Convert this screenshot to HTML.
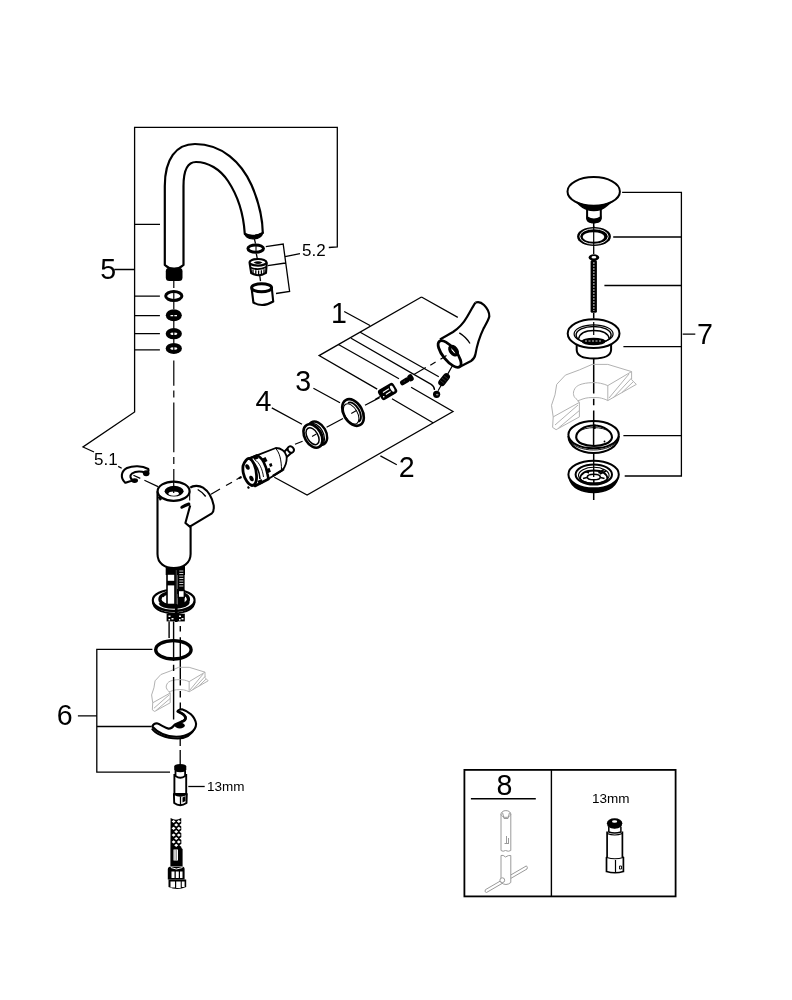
<!DOCTYPE html>
<html><head><meta charset="utf-8">
<style>
html,body{margin:0;padding:0;background:#fff;}
svg{display:block;will-change:transform;}
text{font-family:"Liberation Sans",sans-serif;fill:#000;}
</style></head><body>
<svg width="792" height="1000" viewBox="0 0 792 1000">
<rect width="792" height="1000" fill="#fff"/>
<!-- ===== leader / bracket lines ===== -->
<g fill="none" stroke="#000" stroke-width="1.3">
<polyline points="328.8,247.5 337.3,247 337.3,127.3 134.6,127.3 134.6,412 83,447 94,452"/>
<path d="M134.6,224.3H160M114.3,269.5H134.6M134.6,296.2H159.9M134.6,315.6H159.9M134.6,333.6H159.9M134.6,349.8H159.9"/>
<!-- 5.2 bracket -->
<path d="M265.8,246.7L283.2,244.1L289.6,291.4L276,293.5M267.7,265.7L285.5,263M285.1,256.6L300,253.6"/>
<!-- bracket 1 -->
<path d="M421.5,297L457.8,317.4M421.5,297L319.1,355.6L377.2,389.1M360.2,332.3L438.8,376.8M351.1,338.3L431.2,384.4Q434.5,386.5 434.5,390M338.9,344.8L399,378.7M344.2,311.5L370,325.5"/>
<!-- bracket 2 -->
<path d="M411.1,387.3L453,411.5L307.1,495L274.3,477.3M392,398.7L433,422.8M380.4,455.9L396.8,464.7"/>
<!-- labels 3,4 leaders -->
<path d="M313.4,388.2L340,402.8M271.8,407.9L302,424.3"/>
<!-- bracket 6 -->
<path d="M152.4,649.4H96.8V772.2H170M96.8,726.5H151.1M77.9,715.9H96.8"/>
<!-- 13mm leader -->
<path d="M188.3,786.5H204.7"/>
<!-- bracket 7 -->
<path d="M622.1,192.3H681.4V476H624.7M613.2,237H681.4M604.4,285.5H681.4M623.4,346.7H681.4M623.4,435.6H681.4M682.7,334.2H695.3"/>
</g>
<!-- labels -->
<text x="100.3" y="279" font-size="28.6">5</text>
<text x="331" y="323" font-size="28.6">1</text>
<text x="295.2" y="391.3" font-size="28.6">3</text>
<text x="255.5" y="411" font-size="28.6">4</text>
<text x="398.8" y="476.7" font-size="28.6">2</text>
<text x="56.7" y="724.7" font-size="28.6">6</text>
<text x="697" y="344.3" font-size="28.6">7</text>
<text x="496.5" y="795.3" font-size="28.6">8</text>
<text x="302" y="256" font-size="17">5.2</text>
<text x="94" y="465" font-size="17">5.1</text>
<text x="207" y="790.6" font-size="13.5">13mm</text>
<text x="592" y="802.7" font-size="13.5">13mm</text>

<!-- ===== spout ===== -->
<g fill="none" stroke="#000" stroke-width="2.2" stroke-linejoin="round">
<path d="M164.8,265 L164.8,186 C164.8,159 176,144 195,144 C222,144 241.5,162.5 251.5,185 C258.5,201 262.5,218 262.8,233 Q253,239 244.8,234 C243.5,213 238,196 228,181 C220,169 208,162 196,162 C188,162 183.5,169 183.5,186 L183.5,265 Q174,273 164.8,265 Z" fill="#fff"/>
</g>
<path d="M244.8,233.5 Q253,237.5 262.8,232.8 Q261.5,238.5 253,239 Q245.5,238.5 244.8,233.5Z" fill="#000" stroke="#000" stroke-width="1.2"/>
<rect x="165.8" y="267.8" width="16.7" height="13.2" rx="3.5" fill="#000"/>

<!-- centerline left column -->
<g stroke="#000" stroke-width="1.2" fill="none">
<path d="M173.8,281V288M173.8,302V309M173.8,321V328M173.8,339V343M173.8,360.5V385.7M173.8,390.6V397.6M173.8,402.5V452.2M173.8,457.1V464.1M173.8,469V482"/>
</g>
<!-- o-rings 5 -->
<ellipse cx="173.8" cy="296" rx="8.1" ry="4.5" fill="none" stroke="#000" stroke-width="3"/>
<ellipse cx="173.8" cy="315.3" rx="8" ry="6" fill="#000"/>
<ellipse cx="173.8" cy="333.7" rx="8.1" ry="5.6" fill="#000"/>
<ellipse cx="173.8" cy="348.4" rx="8.1" ry="5.5" fill="#000"/>
<ellipse cx="173.8" cy="333.8" rx="3.5" ry="1.3" fill="#fff"/>
<ellipse cx="173.8" cy="348.5" rx="3.5" ry="1.3" fill="#fff"/>
<rect x="170.5" y="315" width="6.5" height="1.3" fill="#fff"/>
<path d="M173.8,291V301M173.8,312V319M173.8,331V336.5M173.8,345.5V351" stroke="#000" stroke-width="1.2"/>

<!-- ===== aerator 5.2 ===== -->
<g stroke="#000" stroke-width="1.3" fill="none">
<path d="M254.4,238.8L255.5,243.7M256.3,253.6L257.4,259.2M259.7,275.2L260.5,281.2"/>
</g>
<ellipse cx="255.7" cy="248.6" rx="7.8" ry="3.7" fill="none" stroke="#000" stroke-width="3"/>
<path d="M256,245.5V252" stroke="#000" stroke-width="1.1"/>
<path d="M249.6,263 L251.2,273 Q258.5,277.5 266,272.8 L266.8,262.5" fill="#fff" stroke="#000" stroke-width="2.1"/>
<ellipse cx="258" cy="262.3" rx="8.5" ry="3.3" fill="#fff" stroke="#000" stroke-width="2.2"/>
<path d="M253.5,262.5 Q258,260 262.5,262.5 Q258,265.5 253.5,262.5Z" fill="#000"/>
<path d="M250.3,267.5 Q258,271 266.3,267" fill="none" stroke="#000" stroke-width="1.8"/>
<path d="M253,269.5V274M255.8,270.3V275M258.6,270.5V275.3M261.4,270.2V275M264,269.3V274" stroke="#000" stroke-width="1.3"/>
<path d="M251.7,289 L253.4,302.5 Q262.5,308 273.2,301.5 L271.8,288" fill="#fff" stroke="#000" stroke-width="2.1"/>
<ellipse cx="261.6" cy="287.8" rx="10" ry="4" fill="#fff" stroke="#000" stroke-width="3"/>
<path d="M254,290.5 Q262,293.8 270,290.2" fill="none" stroke="#000" stroke-width="1.2"/>
<path d="M258.5,292 Q262,290.6 265.5,292" fill="none" stroke="#000" stroke-width="1"/>
<!-- ===== handle 1 ===== -->
<g stroke="#000" fill="none" stroke-linejoin="round">
<path d="M475.5,302.6 C478,301.5 481,302 484,305 C487,308 489.5,312 489.3,316.5 C488.5,320 486,324 483.6,328.4 C480,336 477,345 475.5,354 C475,357 474,359 471,361 L460.4,366.5" stroke-width="2.2" fill="#fff"/>
<path d="M475.5,302.6 C473,306 470,312 467,317 C463,324 459,328 453,332 C449,334.5 444,337 440,339.5" stroke-width="2.2"/>
<ellipse cx="449.6" cy="354" rx="16.3" ry="6.6" transform="rotate(51 449.6 354)" stroke-width="2.8" fill="#fff"/>
<ellipse cx="453.6" cy="350.6" rx="5" ry="2.9" transform="rotate(51 453.6 350.6)" stroke-width="3.2"/>
<path d="M459.3,332.9 Q466,337 470,343.5" stroke-width="1.3"/>
<path d="M441,341.5 Q443,340 445,341.5" stroke-width="1"/>
</g>
<!-- axis dashed from handle -->
<g stroke="#000" stroke-width="1.2" fill="none">
<path d="M413.9,374.4L425.8,367.4M430.3,365.3L435.6,362.1M440.5,359.2L446.5,355.6M450.5,353.2L453,351.8"/>
<path d="M452.8,365L447.7,374.1M441.2,385.3L438.1,390.8"/>
<path d="M375,399.4L380,396.4M365,405.2L379.6,397.6M326.6,427.3L343,418.5M295,444.3L302.6,441.2M211,494.3L220,489M226,485.6L232,482.2M236.5,479.6L241.5,476.7"/>
<path d="M118.2,466.4L121.7,468.3M133.4,475.2L140.3,478.4M144.4,480.3L158,486.6"/>
</g>
<!-- screw -->
<g transform="translate(406.5,380.3) rotate(-31)">
<rect x="-7" y="-2.6" width="10" height="5.2" rx="2" fill="#000"/>
<rect x="2" y="-3.6" width="5.5" height="7.2" rx="2.4" fill="#000"/>
<path d="M-3,-0.3H-2" stroke="#777" stroke-width="0.7"/>
</g>
<!-- nut -->
<g transform="translate(387.6,391.5) rotate(-31)">
<rect x="-9" y="-5.8" width="18" height="11.6" rx="3" fill="#000"/>
<ellipse cx="5.4" cy="0" rx="1.6" ry="3.4" fill="#fff"/>
<path d="M-4.5,-1.6H2.5M-3,1.6H2.5" stroke="#fff" stroke-width="1.2"/>
<circle cx="-6" cy="2.5" r="0.8" fill="#fff"/>
</g>
<!-- spring -->
<g transform="translate(444.1,379.7) rotate(-52)">
<rect x="-7.2" y="-3.6" width="14.4" height="7.2" rx="3.6" fill="#000"/>
<path d="M-3,-2.5V2.5M0,-2.8V2.8M3,-2.5V2.5" stroke="#444" stroke-width="0.6"/>
</g>
<!-- ball -->
<circle cx="436.6" cy="394.3" r="3.6" fill="#000"/><ellipse cx="437.2" cy="394.6" rx="1.3" ry="0.9" fill="#888"/>

<!-- ring 3 -->
<g transform="translate(353,412.5) rotate(-30)">
<ellipse cx="0" cy="0" rx="9.4" ry="14.4" fill="#fff" stroke="#000" stroke-width="2.6"/>
<ellipse cx="-2.3" cy="0.3" rx="6.2" ry="11.2" fill="none" stroke="#000" stroke-width="1"/>
<path d="M0.5,-10.8 A6,10.8 0 0 1 0.5,10.8" fill="none" stroke="#000" stroke-width="1.9"/>
<path d="M-2,0 H4" stroke="#000" stroke-width="1"/>
</g>
<!-- ring 4 -->
<g transform="translate(315.5,434.5) rotate(-30)">
<ellipse cx="2.5" cy="0" rx="8.3" ry="12.6" fill="#fff" stroke="#000" stroke-width="2.4"/>
<path d="M0.8,-12.4 A8.3,12.6 0 0 1 0.8,12.4" fill="none" stroke="#000" stroke-width="1.3"/>
<path d="M-1,-12.5 A8.3,12.6 0 0 1 -1,12.5" fill="none" stroke="#000" stroke-width="1.3"/>
<ellipse cx="-3" cy="0" rx="8.2" ry="12.6" fill="#fff" stroke="#000" stroke-width="2.6"/>
<ellipse cx="-3.4" cy="0" rx="5.4" ry="9.2" fill="none" stroke="#000" stroke-width="1.5"/>
<path d="M-4,0 H1" stroke="#000" stroke-width="1"/>
</g>
<!-- cartridge -->
<g stroke-linejoin="round">
<!-- stem -->
<path d="M281.5,454.5 L288.5,447.5 L293,451.5 L285,458.5Z" fill="#fff" stroke="#000" stroke-width="1.9"/>
<ellipse cx="290.8" cy="449.5" rx="2.8" ry="3.4" transform="rotate(-40 290.8 449.5)" fill="#fff" stroke="#000" stroke-width="1.9"/>
<!-- body -->
<path d="M250,458 L275.8,448 C281,448 285.5,451.5 286.5,456 C287.2,461 285.5,467.5 281.8,470.8 L268.2,479.1 L252,482 Z" fill="#fff" stroke="#000" stroke-width="1.8"/>
<path d="M275.5,448.5 C279.5,452 281.5,460 281.5,470.5" fill="none" stroke="#000" stroke-width="1"/>
<path d="M272.8,476 L284,469" stroke="#000" stroke-width="2.2"/>
<!-- castle ring -->
<path d="M249.5,458.5 L257,455.5 C262,457 266,465 267.5,474 L268.5,479 L255,486 C250,480 246.5,470 249.5,458.5Z" fill="#fff" stroke="#000" stroke-width="2.6"/>
<path d="M252.5,456.5 l4,-2 l2,4 l-4,1.6z M261.5,459 l4,-2 l2,4 l-4,2z M265.5,469.5 l4,-1.8 l1.4,4 l-4,1.8z M257.5,481 l4,-2 l1.6,4 l-4,2z M269,464 l2.5,-1 l1,3 l-2.5,1z" fill="#000"/>
<path d="M252.5,462 C256,464 259.5,471 260,479" fill="none" stroke="#000" stroke-width="1.6"/>
<path d="M255,460 C259,462 262.5,469 263.5,477" fill="none" stroke="#000" stroke-width="0.9"/>
<!-- front face -->
<path d="M243,466 C244.5,461 247.5,458 249.5,458.5 C253,460 256,467 256.5,475 C257,481 255.5,485.5 252,485.5 C248.5,485 244.5,479 243.3,473 C242.8,470.5 242.8,468 243,466Z" fill="#fff" stroke="#000" stroke-width="2.8"/>
<ellipse cx="247.5" cy="467" rx="2" ry="2.9" transform="rotate(-25 247.5 467)" fill="#000"/>
<ellipse cx="251.5" cy="478.5" rx="2" ry="2.9" transform="rotate(-25 251.5 478.5)" fill="#000"/>
<path d="M241,476 l-2.5,1.3 l0.8,2 l2.6,-1.2z M248.5,486 l-1.5,1 l1,2 l2,-1z" fill="#000"/>
</g>
<!-- ===== clip 5.1 ===== -->
<path d="M125.2,482.8 C120,478 121,471 127,468 C133,465.5 142,465.5 148.3,469 C149,471 148,472.5 145.4,472.5 C141,471.3 135,471.5 132,473.5 C129.5,475.5 130,478.5 133,480.5 C130,481 127.5,482 125.2,482.8 Z" fill="#fff" stroke="#000" stroke-width="2.1" stroke-linejoin="round"/>
<ellipse cx="146.2" cy="473.2" rx="3.3" ry="3" fill="#000"/>
<ellipse cx="134.6" cy="480.6" rx="3.4" ry="2.3" fill="#000"/>

<!-- ===== under body: studs, washer ===== -->
<ellipse cx="173.7" cy="600.3" rx="20.9" ry="10.6" fill="#fff" stroke="#000" stroke-width="2.1"/>
<path d="M152.8,601.5 Q153.5,612 173.7,613.6 Q194,612 194.6,601.5" fill="none" stroke="#000" stroke-width="2"/>
<ellipse cx="174.2" cy="599.2" rx="14.3" ry="7.1" fill="none" stroke="#000" stroke-width="3.2"/>
<path d="M163,597 Q165,594.5 169,593.8" stroke="#000" stroke-width="1" fill="none"/>
<rect x="165.7" y="560" width="19.3" height="15" fill="#000"/>
<rect x="167" y="574" width="8" height="30.5" fill="#fff" stroke="#000" stroke-width="1.6"/>
<rect x="167" y="580.8" width="8" height="4.6" fill="#000"/>
<rect x="177.8" y="560" width="6.8" height="31" fill="#000"/>
<path d="M179.3,571H183.3M179.3,573.5H183.3M179.3,576H183.3M179.3,578.5H183.3M179.3,581H183.3M179.3,583.5H183.3M179.3,586H183.3" stroke="#fff" stroke-width="0.8"/>
<rect x="178.3" y="590.5" width="6" height="7" fill="#fff" stroke="#000" stroke-width="1.4"/>
<rect x="178" y="597" width="6.6" height="8" fill="#000"/>
<rect x="175" y="567" width="2.6" height="55" fill="#000"/>
<path d="M176.3,570V604" stroke="#777" stroke-width="0.6"/>
<path d="M159.9,603 Q162,607 174.2,607.3 Q187,607 188.5,602" fill="none" stroke="#000" stroke-width="3"/>
<path d="M155,606 Q160,611 173.7,611.5 Q188,611 193,606" fill="none" stroke="#000" stroke-width="1"/>
<rect x="166.6" y="613.7" width="18.2" height="7.7" fill="#000"/>
<path d="M168.5,615.5h2v1.6h-2zM171.5,618h2v1.6h-2zM168.5,619h1.6v1.4h-1.6zM179,615.5h2v1.6h-2zM181.5,618h2v1.6h-2zM179,619h1.6v1.4h-1.6z" fill="#fff"/>
<path d="M169.1,621.4V638M173.6,621.4V661M180.3,626V631.6M180.3,637.2V685.4M180.3,691V697.6M180.3,702.5V712" stroke="#000" stroke-width="1.4" fill="none"/>
<!-- ===== body ===== -->
<path d="M157.5,491.2 V554 C157.5,563.5 165,568 173.8,568 C182.5,568 190.6,563.5 190.6,554 V526.6 M190.2,491.2 V500.5" fill="#fff" stroke="#000" stroke-width="2.1"/>
<path d="M190.2,487.7 C193,485.5 199,485 203,487.7 C208,491 212,497 213.7,505.4 C214,509 213.5,512 211.9,513.3 L189.8,526.6 L185.4,523 L190.2,505.4" fill="#fff" stroke="#000" stroke-width="2.1" stroke-linejoin="round"/>
<path d="M197.7,489.5 Q203,492.5 205.7,496.5" stroke="#000" stroke-width="1.4" fill="none"/>
<path d="M181.8,507.3 Q185,505.5 188.9,504" stroke="#000" stroke-width="3" fill="none" stroke-linecap="round"/>
<path d="M158.8,496.5 L161,500" stroke="#000" stroke-width="2.4" fill="none"/>
<ellipse cx="173.6" cy="491.2" rx="16" ry="9.6" fill="#fff" stroke="#000" stroke-width="2.2"/>
<ellipse cx="174.1" cy="491.2" rx="9.5" ry="5.4" fill="#000"/>
<ellipse cx="173.7" cy="493.6" rx="5.2" ry="2.1" fill="#fff"/>
<path d="M173.7,481.6V493" stroke="#000" stroke-width="1.2"/>

<!-- o-ring 6 -->
<ellipse cx="173.4" cy="649.8" rx="17.7" ry="9.2" fill="none" stroke="#000" stroke-width="3.4"/>
<!-- gray countertop left -->
<use href="#ct" transform="translate(151.6,667.3) scale(0.667,0.676) translate(-551.5,-364.4)"/>
<path d="M173.6,664.8V670.9M173.6,677V719.4" stroke="#000" stroke-width="1.4"/>

<!-- horseshoe -->
<path d="M151.9,728.5 C155,733.5 165,738.4 177.7,738.6 C186,738.2 192,734 194.5,728.5" fill="none" stroke="#000" stroke-width="2"/>
<path d="M152.2,726.5 C153,724.5 155,723.3 156.8,723.3 C160,724 165,728 168.5,728.6 C171,728.8 173,727 174.9,724.5 L180.5,722 Q186.5,720.5 185.5,716.5 Q183,713 177.4,711.5 Q178,709.5 182,709.2 C188,711 195,716 196.1,724 C196,731 188,736.6 176.3,736.8 C166,736.5 157,732 152.2,726.5 Z" fill="#fff" stroke="#000" stroke-width="2.1" stroke-linejoin="round"/>
<ellipse cx="179.8" cy="725.5" rx="5" ry="3" fill="#000"/>
<path d="M177.8,711.5 Q184.5,714 185.5,717.5 Q186,720.5 181,722" fill="none" stroke="#000" stroke-width="2.8"/>
<path d="M180.2,738.7V746M180.2,750V765" stroke="#000" stroke-width="1.3"/>

<!-- valve 13mm -->
<path d="M174.4,774 V794 H186.2 V774" fill="#fff" stroke="#000" stroke-width="1.9"/>
<path d="M173.9,794 L174.2,803 Q180,807.5 186.5,803 L186.8,794 Q180.3,797.5 173.9,794Z" fill="#fff" stroke="#000" stroke-width="1.9" stroke-linejoin="round"/>
<path d="M180.5,796.5V806" stroke="#000" stroke-width="1.3"/>
<path d="M182.5,797.5 L185.5,796 V801 L182.5,802.5Z" fill="#000"/>
<path d="M175.5,771 V776 Q180.3,779.5 185.1,776 V771" fill="#fff" stroke="#000" stroke-width="1.8"/>
<path d="M174.2,766.5 Q174.2,764 180.2,764 Q186.3,764 186.3,766.5 V769.5 Q186.3,772.2 180.2,772.2 Q174.2,772.2 174.2,769.5Z" fill="#000"/>

<!-- hose -->
<path d="M170.6,818 Q176,821.5 181.2,818 L181.4,848 L182.6,849 V866 H170.4 V849 Z" fill="#000"/>
<path d="M171.6,821.5l2,-1.6l2,1.6l-2,1.6zM176.8,821.5l2,-1.6l2,1.6l-2,1.6zM174.2,824.9l2,-1.6l2,1.6l-2,1.6zM179.4,824.9l2,-1.6l2,1.6l-2,1.6zM171.6,828.3l2,-1.6l2,1.6l-2,1.6zM176.8,828.3l2,-1.6l2,1.6l-2,1.6zM174.2,831.7l2,-1.6l2,1.6l-2,1.6zM179.4,831.7l2,-1.6l2,1.6l-2,1.6zM171.6,835.1l2,-1.6l2,1.6l-2,1.6zM176.8,835.1l2,-1.6l2,1.6l-2,1.6zM174.2,838.5l2,-1.6l2,1.6l-2,1.6zM179.4,838.5l2,-1.6l2,1.6l-2,1.6zM171.6,841.9l2,-1.6l2,1.6l-2,1.6zM176.8,841.9l2,-1.6l2,1.6l-2,1.6zM174.2,845.3l2,-1.6l2,1.6l-2,1.6zM179.4,845.3l2,-1.6l2,1.6l-2,1.6z" fill="#fff"/>
<rect x="173.5" y="849.5" width="4.5" height="11" fill="#fff"/>
<path d="M175,850V860M176.5,850V860" stroke="#555" stroke-width="0.6"/>
<path d="M167.8,869 Q168,866.5 171,866.5 H182 Q184.6,866.5 184.6,869 V879.5 H167.8 Z" fill="#000"/>
<path d="M171.5,871.5h3v6.5h-3zM175.8,871.5h3v6.5h-3zM180,871.5h2.5v6.5h-2.5z" fill="#fff"/>
<path d="M168.5,879.5 H186.2 V887 Q177,891 168.5,887 Z" fill="#000"/>
<path d="M170.5,881.5h4.5v6h-4.5zM176.2,881.5h4.5v6.5h-4.5zM181.8,881.5h2.8v5.5h-2.8z" fill="#fff"/>
<path d="M170.8,867.5 Q176,870.5 182.5,867.5" stroke="#fff" stroke-width="1" fill="none"/>

<!-- ===== drain 7 ===== -->
<path d="M593.7,222 V227M593.7,313V318.5M593.7,358V393.6M593.7,398.8V405.2M593.7,410.4V421M593.7,453V460.5M593.7,492V500" stroke="#000" stroke-width="1.5"/>
<path d="M587.1,208 V218.5 Q587.5,222.5 593.9,222.5 Q600.3,222.5 600.8,218.5 V208 Z" fill="#fff" stroke="#000" stroke-width="2"/>
<path d="M587.3,217 Q593.9,221.5 600.6,217 L600.6,219 Q599.5,222.6 593.9,222.6 Q588.3,222.6 587.3,219Z" fill="#000" stroke="#000" stroke-width="1.5"/>
<ellipse cx="593.7" cy="191.4" rx="26.2" ry="14.3" fill="#fff" stroke="#000" stroke-width="2"/>
<path d="M577,202.5 Q585,206.5 593.7,206.5 Q602.5,206.5 610.5,202.5 Q604,208.5 600.8,209.5 Q593.7,211.5 587.1,209.5 Q583,208.5 577,202.5Z" fill="#000" stroke="#000" stroke-width="1.6" stroke-linejoin="round"/>
<ellipse cx="594" cy="236.5" rx="16.9" ry="9.5" fill="#000"/>
<ellipse cx="594" cy="236.5" rx="14.2" ry="7.7" fill="none" stroke="#fff" stroke-width="0.9"/>
<ellipse cx="593.5" cy="237" rx="10.8" ry="4.8" fill="#fff"/>
<path d="M593.7,226V247" stroke="#000" stroke-width="1.2"/>
<!-- long screw -->
<rect x="590.6" y="260" width="6.3" height="52.8" rx="1.5" fill="#000"/>
<path d="M593.8,262.5V311" stroke="#fff" stroke-width="1.6" stroke-dasharray="0.9 2.1"/>
<ellipse cx="593.9" cy="257.5" rx="5.3" ry="3.3" fill="#000"/>
<ellipse cx="593.9" cy="257.2" rx="2.4" ry="1.2" fill="#fff"/>
<path d="M593.7,247V254" stroke="#000" stroke-width="1.3"/>
<!-- flange -->
<path d="M576.7,343 V350 Q577,358.5 593.7,358.5 Q610.5,358.5 611.1,350 V343" fill="#fff" stroke="#000" stroke-width="2"/>
<ellipse cx="593.6" cy="333.6" rx="25.9" ry="14.4" fill="#fff" stroke="#000" stroke-width="2"/>
<ellipse cx="593.6" cy="333.9" rx="19.5" ry="9" fill="none" stroke="#000" stroke-width="1.2"/>
<ellipse cx="593.6" cy="335" rx="17.5" ry="8.5" fill="none" stroke="#000" stroke-width="1.4"/>
<path d="M578.5,339 C580,332 588,330.5 593.8,330.5 C600,330.5 608,332 609.4,339" fill="none" stroke="#000" stroke-width="1.4"/>
<ellipse cx="593.6" cy="341.5" rx="12" ry="3.8" fill="#000"/>
<path d="M585,341H602" stroke="#fff" stroke-width="0.8" stroke-dasharray="2 1.5"/>
<path d="M593.7,322V335" stroke="#000" stroke-width="1.2"/>

<!-- gray countertop right -->
<g id="ct" fill="none" stroke="#b2b2b2" stroke-width="1" stroke-linejoin="round">
<path vector-effect="non-scaling-stroke" d="M592.1,364.4 L607.8,364.4 L631.6,371.6 L631.6,379.7 L636.3,384.4 L607.8,400.6 L607.8,385.6 L631.6,371.6"/>
<path vector-effect="non-scaling-stroke" d="M592.1,364.4 L579.4,369.9 L565.4,375.1 L556.7,384.4 L555,394.8 L551.5,405.3 L553.2,416.9 L552.6,427.4 L556.1,429.7 L579.4,416.9 L579.4,402.4 L553.2,416.9"/>
<path vector-effect="non-scaling-stroke" d="M607.8,385.6 C603,383.5 598,382.6 594.5,382.6 C590,382.6 586,383 582.8,383.8 C578,385 575.5,387 574.7,389 C573.5,391 573.2,393 573.6,394.8 C574,397 575.5,398.5 577,399.5 L579.4,402.4"/>
<path vector-effect="non-scaling-stroke" d="M577.5,401 C581,399.5 585,398 588.7,397.7 C592,397.4 596,397.4 599.1,397.7 C602.5,398.3 605.5,399.3 607.8,400.6"/>
<path vector-effect="non-scaling-stroke" d="M555,425 L578,405 M558.5,428 L579.4,410.5 M609,398 L629,374 M613,398 L631.6,378 M622,392.5 L633,382"/>
</g>
<!-- lower ring -->
<path d="M568.4,436 C568.6,446.5 580,453 593.6,453 C607.2,453 618.6,446.5 618.8,436" fill="#fff" stroke="#000" stroke-width="2"/>
<ellipse cx="593.6" cy="434.7" rx="25.2" ry="13.6" fill="#fff" stroke="#000" stroke-width="2"/>
<path d="M569.5,439.5 C572,446 582,450 593.6,450 C605,450 615,446 617.7,439.5" fill="none" stroke="#000" stroke-width="0.9"/>
<path d="M576.2,437.5 C577,443 584.5,446 594,446 C603,446 611,443 612,437.5 C612,431.5 604,425.5 594,425.5 C584,425.5 576,431 576.2,437.5Z" fill="#fff" stroke="#000" stroke-width="2.1"/>
<path d="M579,431.5 Q584,427.8 594,427.6 Q604,427.8 609,431.5" stroke="#000" stroke-width="0.9" fill="none"/>
<path d="M593.6,421V446" stroke="#000" stroke-width="1.5"/>
<path d="M594.5,424.5V429" stroke="#000" stroke-width="2.2"/>
<circle cx="604.5" cy="441.5" r="0.9" fill="#000"/>
<!-- strainer -->
<path d="M569.5,479 C572,488 582,492.5 593.6,492.5 C605,492.5 615,488 617.7,479 C612,486 604,488.3 593.6,488.3 C583,488.3 575,486 569.5,479Z" fill="#000" stroke="#000" stroke-width="1.6"/>
<ellipse cx="593.6" cy="474.5" rx="25.2" ry="13.8" fill="#fff" stroke="#000" stroke-width="2"/>
<ellipse cx="593.8" cy="474.5" rx="18.2" ry="10.1" fill="#fff" stroke="#000" stroke-width="2"/>
<ellipse cx="593.8" cy="475.3" rx="15.3" ry="8" fill="none" stroke="#000" stroke-width="1.1"/>
<path d="M580,478.5 C581,472 587,470.5 593.8,470.5 C601,470.5 606.5,472 607.5,478.5 C606.5,482 601,483.3 593.8,483.3 C586.5,483.3 581,482 580,478.5Z" fill="none" stroke="#000" stroke-width="1.8"/>
<ellipse cx="593.8" cy="477" rx="6.5" ry="2.8" fill="none" stroke="#000" stroke-width="1.6"/>
<path d="M583,478.5 L587,477.5 M600.5,477.5 L604.5,478.5 M593.8,479.8V483 M589,473 L586,471.5 M598.5,473 L604,469.5 M600,474 L606,471" stroke="#000" stroke-width="1.5"/>
<path d="M593.7,460V477" stroke="#000" stroke-width="1.3"/>
<!-- ===== box 8 ===== -->
<rect x="464.4" y="769.9" width="211.2" height="126.5" fill="none" stroke="#000" stroke-width="1.8"/>
<path d="M551.4,769.9V896.4M470.9,798.8H535.8" stroke="#000" stroke-width="1.4"/>
<g fill="#fff" stroke="#9a9a9a" stroke-width="1">
<path d="M485.4,889.7 L526.4,865.9 Q528,867 527,869 L486.5,892.5 Q484,892 485.4,889.7Z"/>
<path d="M501,855.5 Q503,854.5 505.5,857 Q508.5,855 510.8,855.5 V882.5 Q506,886.5 501,882.5 Z"/>
<path d="M501,814 V850.5 Q503,852 505.5,850.5 Q508.5,852 510.8,850.5 V814"/>
<ellipse cx="505.9" cy="814" rx="4.9" ry="3.4"/>
<path d="M502.5,812.5 L504,818.5 M509.5,812.5 L508,818.5 M504,818.5H508"/>
<path d="M506.5,836 V844 M508.5,838 V843 M504.5,843.5 H509"/>
<circle cx="502.3" cy="880.2" r="2.4"/>
</g>
<!-- valve box -->
<path d="M607.1,831.5 V856.8 L606.5,857.5 V871.5 Q615,874 623.4,871.5 V857.5 L622.4,856.8 V831.5" fill="#fff" stroke="#000" stroke-width="1.7"/>
<path d="M607.1,833.5 Q614.7,836.5 622.4,833.5 M606.8,857.5 Q615,860 623.2,857.5 M615.5,860V873" fill="none" stroke="#000" stroke-width="1.2"/>
<path d="M608.8,827 V832 Q614.7,834 620.9,832 V827" fill="#fff" stroke="#000" stroke-width="1.5"/>
<path d="M619.5,866 h2 v3 h-2z" fill="none" stroke="#000" stroke-width="0.9"/>
<ellipse cx="614.6" cy="823.2" rx="7.7" ry="5" fill="#000"/>
<path d="M607.5,824.5 Q614.6,829 621.7,824.5 L621.5,826.5 Q614.6,831 607.7,826.5Z" fill="#000"/>
<ellipse cx="614.6" cy="821.5" rx="2.6" ry="1.2" fill="#fff"/>

</svg>
</body></html>
